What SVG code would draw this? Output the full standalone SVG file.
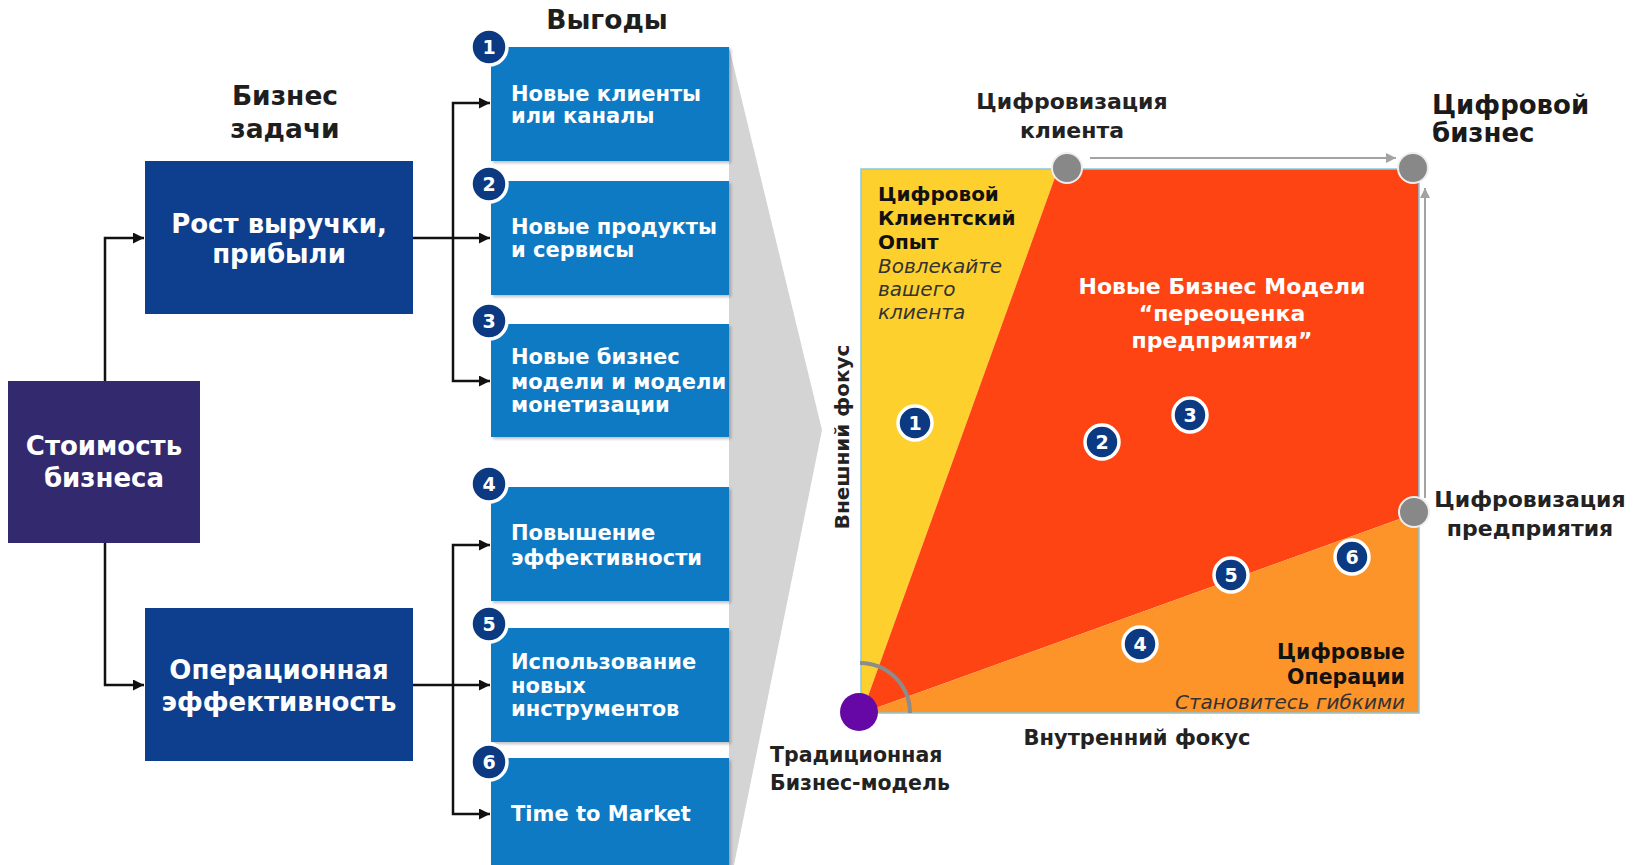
<svg xmlns="http://www.w3.org/2000/svg" width="1642" height="865" viewBox="0 0 1642 865">
<defs>
<style>
.t{font-family:"DejaVu Sans","Liberation Sans",sans-serif;font-weight:bold}
.it{font-family:"DejaVu Sans","Liberation Sans",sans-serif;font-style:italic;fill:#333}
.title{font-size:26.5px;fill:#1e1e1e;text-anchor:middle}
.task{font-size:26px;fill:#fff;text-anchor:middle}
.ben{font-size:21px;fill:#fff}
.benbox{fill:#0b7ac3;filter:url(#sh)}
.num{fill:#0c3a82;stroke:#fff;stroke-width:3.5}
.numt{font-size:19px;fill:#fff;text-anchor:middle}
.lbl{font-size:22px;fill:#222}
.conn{fill:none;stroke:#111;stroke-width:2.5}
.garr{fill:none;stroke:#a3a3a3;stroke-width:2}
.gdot{fill:#888;stroke:#eee;stroke-width:2}
</style>
<marker id="ah" viewBox="0 0 10 10" refX="10" refY="5" markerWidth="4.4" markerHeight="4.4" markerUnits="strokeWidth" orient="auto">
<path d="M0 0 L10 5 L0 10 Z" fill="#111"/>
</marker>
<marker id="ga" viewBox="0 0 10 10" refX="10" refY="5" markerWidth="5" markerHeight="5" markerUnits="strokeWidth" orient="auto">
<path d="M0 0 L10 5 L0 10 Z" fill="#a3a3a3"/>
</marker>
<filter id="sh" x="-5%" y="-5%" width="115%" height="115%">
<feDropShadow dx="2" dy="2" stdDeviation="1.5" flood-color="#000" flood-opacity="0.25"/>
</filter>
</defs>
<rect width="1642" height="865" fill="#fff"/>

<!-- gray funnel -->
<polygon points="729,47 822,430 734,865 729,865" fill="#d4d4d4"/>

<!-- titles -->
<text class="t title" x="285" y="105">Бизнес</text>
<text class="t title" x="285" y="138">задачи</text>
<text class="t title" x="607" y="29">Выгоды</text>

<!-- connectors -->
<g id="connectors">
<path class="conn" d="M105 381 V238 H144" marker-end="url(#ah)"/>
<path class="conn" d="M105 543 V685 H144" marker-end="url(#ah)"/>
<path class="conn" d="M413 238 H490" marker-end="url(#ah)"/>
<path class="conn" d="M453 238 V103 H490" marker-end="url(#ah)"/>
<path class="conn" d="M453 238 V381 H490" marker-end="url(#ah)"/>
<path class="conn" d="M413 685 H490" marker-end="url(#ah)"/>
<path class="conn" d="M453 685 V545 H490" marker-end="url(#ah)"/>
<path class="conn" d="M453 685 V814 H490" marker-end="url(#ah)"/>
</g>

<g id="value">
<rect x="8" y="381" width="192" height="162" fill="#33296f"/>
<text class="t task" x="104" y="455">Стоимость</text>
<text class="t task" x="104" y="487">бизнеса</text>
</g>
<g id="revenue">
<rect x="145" y="161" width="268" height="153" fill="#0d3f8e"/>
<text class="t task" x="279" y="233">Рост выручки,</text>
<text class="t task" x="279" y="263">прибыли</text>
</g>
<g id="opex">
<rect x="145" y="608" width="268" height="153" fill="#0d3f8e"/>
<text class="t task" x="279" y="679">Операционная</text>
<text class="t task" x="279" y="711">эффективность</text>
</g>

<g id="b1">
<rect class="benbox" x="491" y="47" width="238" height="114"/>
<text class="t ben" x="511" y="101">Новые клиенты</text>
<text class="t ben" x="511" y="123">или каналы</text>
<circle class="num" cx="489" cy="47" r="18"/>
<text class="t numt" x="489" y="54">1</text>
</g>
<g id="b2">
<rect class="benbox" x="491" y="181" width="238" height="114"/>
<text class="t ben" x="511" y="234">Новые продукты</text>
<text class="t ben" x="511" y="257">и сервисы</text>
<circle class="num" cx="489" cy="184" r="18"/>
<text class="t numt" x="489" y="191">2</text>
</g>
<g id="b3">
<rect class="benbox" x="491" y="324" width="238" height="113"/>
<text class="t ben" x="511" y="364">Новые бизнес</text>
<text class="t ben" x="511" y="389">модели и модели</text>
<text class="t ben" x="511" y="412">монетизации</text>
<circle class="num" cx="489" cy="321" r="18"/>
<text class="t numt" x="489" y="328">3</text>
</g>
<g id="b4">
<rect class="benbox" x="491" y="487" width="238" height="114"/>
<text class="t ben" x="511" y="540">Повышение</text>
<text class="t ben" x="511" y="565">эффективности</text>
<circle class="num" cx="489" cy="484" r="18"/>
<text class="t numt" x="489" y="491">4</text>
</g>
<g id="b5">
<rect class="benbox" x="491" y="628" width="238" height="114"/>
<text class="t ben" x="511" y="669">Использование</text>
<text class="t ben" x="511" y="693">новых</text>
<text class="t ben" x="511" y="716">инструментов</text>
<circle class="num" cx="489" cy="624" r="18"/>
<text class="t numt" x="489" y="631">5</text>
</g>
<g id="b6">
<rect class="benbox" x="491" y="758" width="238" height="112"/>
<text class="t ben" x="511" y="821">Time to Market</text>
<circle class="num" cx="489" cy="762" r="18"/>
<text class="t numt" x="489" y="769">6</text>
</g>

<!-- right matrix -->
<g id="matrix">
<polygon points="861,169 1058,169 862,713 861,713" fill="#fdd02e"/>
<polygon points="1058,169 1419,169 1419,512 862,713" fill="#fe4412"/>
<polygon points="862,713 1419,512 1419,713" fill="#fd9429"/>
<rect x="861" y="169" width="558" height="544" fill="none" stroke="#86c9df" stroke-width="1.5"/>
<path d="M860 663 A50 50 0 0 1 910 713" fill="none" stroke="#8c8c8c" stroke-width="4"/>
<text class="t" x="878" y="201" font-size="20" fill="#111">Цифровой</text>
<text class="t" x="878" y="225" font-size="20" fill="#111">Клиентский</text>
<text class="t" x="878" y="249" font-size="20" fill="#111">Опыт</text>
<text class="it" x="878" y="273" font-size="20">Вовлекайте</text>
<text class="it" x="878" y="296" font-size="20">вашего</text>
<text class="it" x="878" y="319" font-size="20">клиента</text>
<text class="t" x="1222" y="294" font-size="22" fill="#fff" text-anchor="middle">Новые Бизнес Модели</text>
<text class="t" x="1222" y="321" font-size="22" fill="#fff" text-anchor="middle">“переоценка</text>
<text class="t" x="1222" y="348" font-size="22" fill="#fff" text-anchor="middle">предприятия”</text>
<text class="t" x="1405" y="659" font-size="20.5" fill="#111" text-anchor="end">Цифровые</text>
<text class="t" x="1405" y="684" font-size="20.5" fill="#111" text-anchor="end">Операции</text>
<text class="it" x="1405" y="709" font-size="20" text-anchor="end">Становитесь гибкими</text>
</g>

<g id="m1"><circle class="num" cx="915" cy="423" r="17"/><text class="t numt" x="915" y="430">1</text></g>
<g id="m2"><circle class="num" cx="1102" cy="442" r="17"/><text class="t numt" x="1102" y="449">2</text></g>
<g id="m3"><circle class="num" cx="1190" cy="415" r="17"/><text class="t numt" x="1190" y="422">3</text></g>
<g id="m4"><circle class="num" cx="1140" cy="644" r="17"/><text class="t numt" x="1140" y="651">4</text></g>
<g id="m5"><circle class="num" cx="1231" cy="575" r="17"/><text class="t numt" x="1231" y="582">5</text></g>
<g id="m6"><circle class="num" cx="1352" cy="557" r="17"/><text class="t numt" x="1352" y="564">6</text></g>

<g id="gray-arrows">
<path class="garr" d="M1090 158 H1396" marker-end="url(#ga)"/>
<path class="garr" d="M1425 498 V188" marker-end="url(#ga)"/>
</g>

<g id="customer-digital">
<circle class="gdot" cx="1067" cy="168" r="15"/>
<text class="t lbl" x="1072" y="109" text-anchor="middle">Цифровизация</text>
<text class="t lbl" x="1072" y="138" text-anchor="middle">клиента</text>
</g>
<g id="digital-business">
<circle class="gdot" cx="1413" cy="168" r="15"/>
<text class="t" x="1432" y="114" font-size="26" fill="#1a1a1a">Цифровой</text>
<text class="t" x="1432" y="142" font-size="26" fill="#1a1a1a">бизнес</text>
</g>
<g id="enterprise-digital">
<circle class="gdot" cx="1414" cy="512" r="15"/>
<text class="t lbl" x="1530" y="507" text-anchor="middle">Цифровизация</text>
<text class="t lbl" x="1530" y="536" text-anchor="middle">предприятия</text>
</g>
<g id="traditional">
<circle cx="859" cy="712" r="19" fill="#6508a6"/>
<text class="t" x="770" y="762" font-size="20.5" fill="#222">Традиционная</text>
<text class="t" x="770" y="790" font-size="20.5" fill="#222">Бизнес-модель</text>
</g>
<text class="t" x="1137" y="745" font-size="21" fill="#222" text-anchor="middle">Внутренний фокус</text>
<text class="t" x="0" y="0" font-size="20" fill="#222" text-anchor="middle" transform="translate(849 437) rotate(-90)">Внешний фокус</text>
</svg>
